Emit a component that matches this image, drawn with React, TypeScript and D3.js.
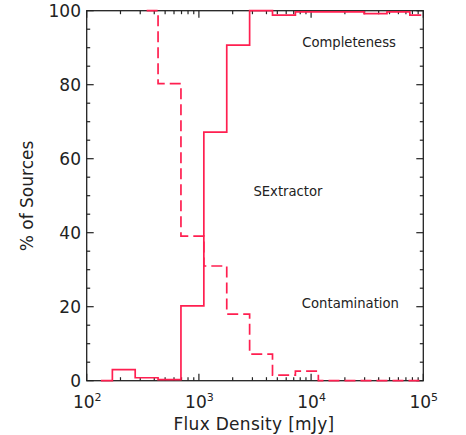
import React from "react";
import * as d3 from "d3";

// Bin centres of the flux-density histogram (mJy)
const fluxBins = [134, 214, 342, 547, 875, 1400, 2240, 3580, 5730, 9160, 14700, 23400, 37500, 60000, 95900];
// Completeness (%), solid line
const completeness = [0, 3, 0.8, 0.3, 20.2, 67.2, 90.7, 100, 98.8, 99.7, 99.7, 99.7, 99.2, 99.7, 98.8];
// Contamination (%), dashed line
const contamination = [null, null, 100, 80.3, 39.1, 31, 18, 7.2, 1.5, 2.6, 0, 0, 0, 0, 0];

const yTicks = [0, 20, 40, 60, 80, 100];
const xDecades = [2, 3, 4, 5];
const textLabels = [
  { text: "Completeness", fx: 21800, py: 91.4 },
  { text: "SExtractor", fx: 6220, py: 51.1 },
  { text: "Contamination", fx: 22400, py: 20.7 },
];

const W = 466, H = 435;
const M = { left: 86.7, right: 423.3, top: 10.7, bottom: 380.7 };
const RED = "#ff1f50";
const INK = "#222";
const FONT = "DejaVu Sans, sans-serif";

function stepPath(xs: number[], vals: (number | null)[], x: any, y: any) {
  let d = "";
  let started = false;
  for (let i = 0; i < xs.length; i++) {
    const v = vals[i];
    if (v == null) continue;
    if (!started) {
      d += `M${x(xs[i])},${y(v)}`;
      started = true;
    } else {
      d += `V${y(v)}`;
    }
    const isLast = i === xs.length - 1;
    const endX = isLast ? x(xs[i]) : x(Math.sqrt(xs[i] * xs[i + 1]));
    d += `H${endX}`;
  }
  return d;
}

export default function App() {
  const x = d3.scaleLog().domain([100, 1e5]).range([M.left, M.right]);
  const y = d3.scaleLinear().domain([0, 100]).range([M.bottom, M.top]);

  const yMinor = d3.range(0, 101, 5);
  const xMinor: number[] = [];
  for (let e = 2; e < 5; e++) for (let m = 2; m <= 9; m++) xMinor.push(m * Math.pow(10, e));

  const MAJ = 7, MIN = 3.5;

  return (
    <svg width={W} height={H} style={{ position: "absolute", left: 0, top: 0, background: "#fff" }}>
      <rect x={0} y={0} width={W} height={H} fill="#fff" />
      {yMinor.map((v) => {
        const L = v % 20 === 0 ? MAJ : MIN;
        return (
          <g key={"yt" + v} stroke={INK} strokeWidth={1.2}>
            <line x1={M.left} x2={M.left + L} y1={y(v)} y2={y(v)} />
            <line x1={M.right} x2={M.right - L} y1={y(v)} y2={y(v)} />
          </g>
        );
      })}
      {xMinor.map((v) => (
        <g key={"xm" + v} stroke={INK} strokeWidth={1.2}>
          <line x1={x(v)} x2={x(v)} y1={M.bottom} y2={M.bottom - MIN} />
          <line x1={x(v)} x2={x(v)} y1={M.top} y2={M.top + MIN} />
        </g>
      ))}
      {xDecades.map((e) => (
        <g key={"xM" + e} stroke={INK} strokeWidth={1.2}>
          <line x1={x(Math.pow(10, e))} x2={x(Math.pow(10, e))} y1={M.bottom} y2={M.bottom - MAJ} />
          <line x1={x(Math.pow(10, e))} x2={x(Math.pow(10, e))} y1={M.top} y2={M.top + MAJ} />
        </g>
      ))}
      <rect x={M.left} y={M.top} width={M.right - M.left} height={M.bottom - M.top} fill="none" stroke={INK} strokeWidth={1.3} />

      <path d={stepPath(fluxBins, completeness, x, y)} fill="none" stroke={RED} strokeWidth={1.7} />
      <path d={stepPath(fluxBins, contamination, x, y)} fill="none" stroke={RED} strokeWidth={1.7} strokeDasharray="11,5" />

      {yTicks.map((v) => (
        <text key={"yl" + v} x={81} y={y(v) + 1} textAnchor="end" dominantBaseline="middle" fontFamily={FONT} fontSize={17} fill={INK}>
          {v}
        </text>
      ))}
      {xDecades.map((e) => (
        <text key={"xl" + e} x={x(Math.pow(10, e)) + 0.5} y={407.5} textAnchor="middle" fontFamily={FONT} fontSize={17} fill={INK}>
          <tspan>10</tspan>
          <tspan fontSize={11} dy={-7}>{e}</tspan>
        </text>
      ))}
      <text x={254} y={430} textAnchor="middle" fontFamily={FONT} fontSize={17} letterSpacing={0.3} fill={INK}>
        Flux Density [mJy]
      </text>
      <text transform={`translate(33,196) rotate(-90)`} textAnchor="middle" fontFamily={FONT} fontSize={17} fill={INK}>
        % of Sources
      </text>
      {textLabels.map((t) => (
        <text key={t.text} x={x(t.fx)} y={y(t.py)} textAnchor="middle" dominantBaseline="middle" fontFamily={FONT} fontSize={13.2} fill={INK}>
          {t.text}
        </text>
      ))}
    </svg>
  );
}
